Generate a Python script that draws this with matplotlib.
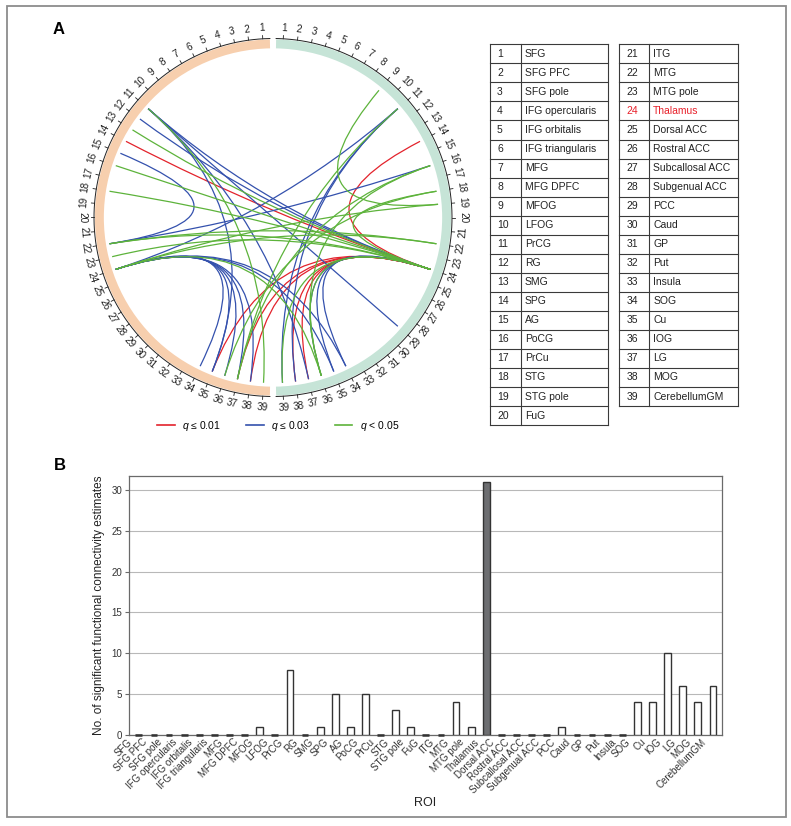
import matplotlib
matplotlib.use("Agg")
import matplotlib.pyplot as plt
import matplotlib.transforms as mtransforms
import numpy as np
from matplotlib.lines import Line2D
from matplotlib.patches import PathPatch, Rectangle, Wedge
from matplotlib.path import Path

plt.rcParams["font.family"] = ["Liberation Sans", "DejaVu Sans"]
plt.rcParams["mathtext.fontset"] = "custom"
plt.rcParams["mathtext.it"] = "Liberation Sans:italic"
plt.rcParams["mathtext.rm"] = "Liberation Sans"

ROI = ["SFG", "SFG PFC", "SFG pole", "IFG opercularis", "IFG orbitalis",
       "IFG triangularis", "MFG", "MFG DPFC", "MFOG", "LFOG", "PrCG", "RG",
       "SMG", "SPG", "AG", "PoCG", "PrCu", "STG", "STG pole", "FuG", "ITG",
       "MTG", "MTG pole", "Thalamus", "Dorsal ACC", "Rostral ACC",
       "Subcallosal ACC", "Subgenual ACC", "PCC", "Caud", "GP", "Put",
       "Insula", "SOG", "Cu", "IOG", "LG", "MOG", "CerebellumGM"]
COUNTS = [0, 0, 0, 0, 0, 0, 0, 0, 1, 0, 8, 0, 1, 5, 1, 5, 0, 3, 1, 0,
          0, 4, 1, 31, 0, 0, 0, 0, 1, 0, 0, 0, 0, 4, 4, 10, 6, 4, 6]
HIGHLIGHT = "Thalamus"

# chord links: left hemisphere "L#", right hemisphere "R#", q class 0/1/2
LINK_A = ["R24", "R24", "R24", "R24", "R24", "R24", "R24",
          "L24", "L24", "L24", "L24", "L24", "L24", "L24", "L24",
          "R24", "R24", "R24", "R24", "R24",
          "L11", "L11", "L11", "R11", "R11", "L15", "L22",
          "L24", "L24", "L24", "R24", "R24", "R24", "R24", "R24", "R24",
          "R24", "R24", "L11", "R11", "R9", "R16", "R16", "L22", "R18"]
LINK_B = ["R14", "L14", "L35", "L37", "L38", "R38", "R37",
          "L34", "L35", "L36", "L37", "L38", "R34", "R35", "R11",
          "R34", "R35", "R36", "L11", "L12",
          "R29", "R37", "L35", "R39", "R38", "L22", "R16",
          "R36", "R22", "R19", "R39", "R36", "L13", "L16", "L18", "L22",
          "L23", "R18", "L39", "L37", "R19", "R36", "L37", "R22", "L36"]
LINK_Q = [0, 0, 0, 0, 0, 0, 0,
          1, 1, 1, 1, 1, 1, 1, 1,
          1, 1, 1, 1, 1,
          1, 1, 1, 1, 1, 1, 1,
          2, 2, 2, 2, 2, 2, 2, 2, 2,
          2, 2, 2, 2, 2, 2, 2, 2, 2]
Q_LABELS = ["$q$ ≤ 0.01", "$q$ ≤ 0.03", "$q$ < 0.05"]
Q_COLORS = ["#e3232c", "#3451ad", "#5db33b"]

W, H = 791, 826
STEP = 178 / 39
R_LINK = 0.925


def angle(node):
    side, i = node[0], int(node[1:])
    if side == "L":
        return np.deg2rad(91 + (i - 0.5) * STEP)
    return np.deg2rad(89 - (i - 0.5) * STEP)


def fx(px):
    return px / W


def fy(py):
    return 1 - py / H


def main():
    fig = plt.figure(figsize=(W / 100, H / 100), dpi=100)

    # overlay in pixel coordinates: frame + table
    ov = fig.add_axes([0, 0, 1, 1], zorder=0)
    ov.set_xlim(0, W)
    ov.set_ylim(H, 0)
    ov.axis("off")
    ov.add_patch(Rectangle((7, 6), 779, 811, fill=False, edgecolor="#8c8c8c", lw=1.3))

    row_h = 19.04
    top = 44.3
    tables = [(490, 520.7, 608.3, range(1, 21)), (619.3, 649.3, 737.7, range(21, 40))]
    for x0, x1, x2, idx in tables:
        idx = list(idx)
        n = len(idx)
        for k in range(n + 1):
            ov.plot([x0, x2], [top + k * row_h] * 2, color="#3a3a3a", lw=0.8)
        for x in (x0, x1, x2):
            ov.plot([x, x], [top, top + n * row_h], color="#3a3a3a", lw=0.8)
        for k, i in enumerate(idx):
            c = "#e8202a" if ROI[i - 1] == HIGHLIGHT else "#222222"
            yc = top + (k + 0.5) * row_h
            ov.text(x0 + 7, yc, str(i), va="center", ha="left", fontsize=7.5, color=c)
            ov.text(x1 + 4, yc, ROI[i - 1], va="center", ha="left", fontsize=7.5, color=c)

    # panel A: chord diagram
    cx, cy, scale = 273, 217.5, 179
    half = 1.2 * scale
    ax = fig.add_axes([fx(cx - half), fy(cy + half), 2 * half / W, 2 * half / H], zorder=1)
    ax.set_xlim(-1.2, 1.2)
    ax.set_ylim(-1.2, 1.2)
    ax.axis("off")
    ax.add_patch(Wedge((0, 0), 0.995, 91, 269, width=0.05, color="#f7cfae", lw=0))
    ax.add_patch(Wedge((0, 0), 0.995, -89, 89, width=0.05, color="#c6e4d7", lw=0))
    for side, t0, t1 in (("L", 91, 269), ("R", -89, 89)):
        t = np.deg2rad(np.linspace(t0, t1, 200))
        ax.plot(np.cos(t), np.sin(t), color="#222222", lw=0.7)
        for i in range(1, 40):
            a = angle(f"{side}{i}")
            ax.plot([np.cos(a), 1.018 * np.cos(a)], [np.sin(a), 1.018 * np.sin(a)],
                    color="#222222", lw=0.6)
            deg = np.rad2deg(a) % 360
            rot = deg - 90 if deg < 180 else deg + 90
            ax.text(1.062 * np.cos(a), 1.062 * np.sin(a), str(i), rotation=rot,
                    rotation_mode="anchor", ha="center", va="center", fontsize=7.2,
                    color="#222222")

    for a_node, b_node, q in zip(LINK_A, LINK_B, LINK_Q):
        a1, a2 = angle(a_node), angle(b_node)
        p1 = (R_LINK * np.cos(a1), R_LINK * np.sin(a1))
        p2 = (R_LINK * np.cos(a2), R_LINK * np.sin(a2))
        path = Path([p1, (0, 0), p2], [Path.MOVETO, Path.CURVE3, Path.CURVE3])
        ax.add_patch(PathPatch(path, fill=False, edgecolor=Q_COLORS[q], lw=0.9))

    handles = [Line2D([], [], color=c, lw=1.2) for c in Q_COLORS]
    fig.legend(handles, Q_LABELS, loc="center", bbox_to_anchor=(fx(278), fy(426)),
               ncol=3, frameon=False, fontsize=7.5, handlelength=1.7,
               handletextpad=0.7, columnspacing=2.4)

    fig.text(fx(59), fy(29), "A", fontsize=12, fontweight="bold", ha="center", va="center")
    fig.text(fx(60), fy(466), "B", fontsize=12, fontweight="bold", ha="center", va="center")

    # panel B: bar chart
    bx = fig.add_axes([fx(129), fy(735), (722 - 129) / W, (735 - 476) / H], zorder=1)
    x = np.arange(len(ROI))
    counts = np.array(COUNTS)
    width = 0.45
    colors = ["#6d6e71" if r == HIGHLIGHT else "white" for r in ROI]
    bx.bar(x, counts, width=width, color=colors, edgecolor="#333333", linewidth=1.0, zorder=3)
    zero = counts == 0
    bx.hlines(counts[zero], x[zero] - width / 2, x[zero] + width / 2, color="#333333",
              lw=1.8, zorder=4, clip_on=False)
    bx.set_xlim(-0.65, 38.6)
    bx.set_ylim(0, 31.7)
    bx.set_yticks(range(0, 31, 5))
    bx.grid(axis="y", color="#b8b8b8", lw=0.8, zorder=0)
    bx.set_axisbelow(True)
    for s in bx.spines.values():
        s.set_color("#6a6a6a")
        s.set_linewidth(0.9)
    bx.tick_params(axis="y", labelsize=7, length=3, color="#6a6a6a", labelcolor="#333333", pad=2)
    bx.tick_params(axis="x", length=0, pad=4)
    bx.set_xticks(x)
    bx.set_xticklabels(ROI, rotation=45, ha="right", rotation_mode="anchor", fontsize=7,
                       color="#333333", va="center")
    off = mtransforms.ScaledTranslation(-6 / 72, 0, fig.dpi_scale_trans)
    for lab in bx.get_xticklabels():
        lab.set_transform(lab.get_transform() + off)
    bx.set_ylabel("No. of significant functional connectivity estimates", fontsize=8.5,
                  color="#222222")
    bx.yaxis.set_label_coords(-0.040, 0.5)
    bx.set_xlabel("ROI", fontsize=9, color="#222222")
    bx.xaxis.set_label_coords(0.5, -0.24)

    fig.savefig("out.png", dpi=100)


if __name__ == "__main__":
    main()
